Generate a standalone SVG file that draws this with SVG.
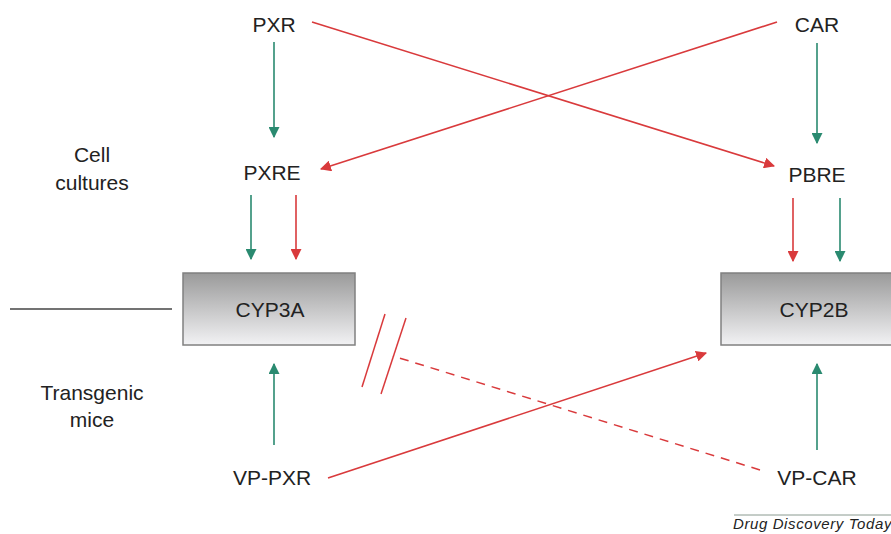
<svg xmlns="http://www.w3.org/2000/svg" width="891" height="534" viewBox="0 0 891 534">
<defs>
<linearGradient id="boxg" x1="0" y1="0" x2="0" y2="1">
<stop offset="0" stop-color="#9a9a9a"/>
<stop offset="1" stop-color="#f2f2f4"/>
</linearGradient>
<marker id="ag" viewBox="0 0 10 10" refX="9" refY="5" markerWidth="11" markerHeight="11" markerUnits="userSpaceOnUse" orient="auto">
<path d="M0,0 L10,5 L0,10 z" fill="#2a8a70"/>
</marker>
<marker id="ar" viewBox="0 0 10 10" refX="9" refY="5" markerWidth="11" markerHeight="11" markerUnits="userSpaceOnUse" orient="auto">
<path d="M0,0 L10,5 L0,10 z" fill="#d93a3c"/>
</marker>
</defs>
<style>
text{font-family:"Liberation Sans",Arial,sans-serif;font-size:21px;fill:#222;text-anchor:middle}
.g{stroke:#2a8a70;stroke-width:1.6;fill:none;marker-end:url(#ag)}
.r{stroke:#d93a3c;stroke-width:1.6;fill:none;marker-end:url(#ar)}
.box{fill:url(#boxg);stroke:#808080;stroke-width:1.5}
.foot{font-style:italic;font-size:15px;letter-spacing:0.6px;text-anchor:start;fill:#222}
</style>
<rect width="891" height="534" fill="#fff"/>
<g id="labels">
<text x="92" y="162">Cell</text>
<text x="92" y="190">cultures</text>
<text x="92" y="400">Transgenic</text>
<text x="92" y="427">mice</text>
</g>
<g id="PXR"><text x="274" y="32">PXR</text></g>
<g id="CAR"><text x="817" y="32">CAR</text></g>
<g id="PXRE"><text x="272" y="180">PXRE</text></g>
<g id="PBRE"><text x="817" y="182">PBRE</text></g>
<g id="CYP3A"><rect class="box" x="183" y="273" width="172" height="72"/><text x="270" y="317">CYP3A</text></g>
<g id="CYP2B"><rect class="box" x="721" y="273" width="175" height="72"/><text x="814" y="317">CYP2B</text></g>
<g id="VP-PXR"><text x="272" y="485">VP-PXR</text></g>
<g id="VP-CAR"><text x="817" y="485">VP-CAR</text></g>
<g id="connectors">
<line x1="10" y1="309" x2="172" y2="309" stroke="#444" stroke-width="1.3"/>
<line class="g" x1="274" y1="42" x2="274" y2="137"/>
<line class="g" x1="817" y1="43" x2="817" y2="143"/>
<line class="r" x1="312" y1="22" x2="774" y2="166"/>
<line class="r" x1="777" y1="22" x2="321" y2="169"/>
<line class="g" x1="251" y1="195" x2="251" y2="259"/>
<line class="r" x1="296" y1="195" x2="296" y2="259"/>
<line class="r" x1="793" y1="198" x2="793" y2="261"/>
<line class="g" x1="840" y1="198" x2="840" y2="261"/>
<line class="g" x1="274" y1="445" x2="274" y2="364"/>
<line class="g" x1="817" y1="450" x2="817" y2="364"/>
<line class="r" x1="328" y1="478" x2="706" y2="353"/>
<line x1="760" y1="470" x2="393" y2="356" stroke="#d93a3c" stroke-width="1.5" stroke-dasharray="9,7"/>
<line x1="385" y1="314" x2="362" y2="387" stroke="#d93a3c" stroke-width="1.5"/>
<line x1="406" y1="318" x2="381" y2="394" stroke="#d93a3c" stroke-width="1.5"/>
</g>
<g id="footer">
<line x1="734" y1="515" x2="891" y2="515" stroke="#8a9a90" stroke-width="1"/>
<text class="foot" x="733" y="529">Drug Discovery Today</text>
</g>
</svg>
